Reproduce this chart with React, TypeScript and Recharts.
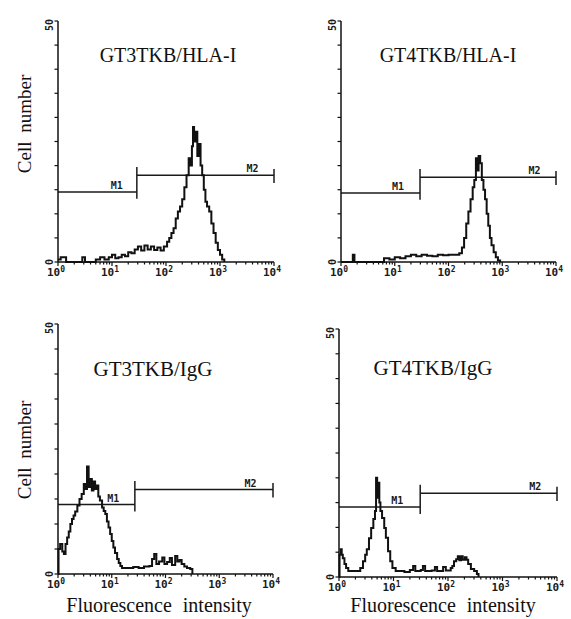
import React from 'react';
import { LineChart, Line, XAxis, YAxis, ReferenceLine, ReferenceDot } from 'recharts';

// ---- shared axis values ----
const decades = [0, 1, 2, 3, 4];
const minorOffsets = [0.301, 0.477, 0.602, 0.699, 0.778, 0.845, 0.903, 0.954];
const yTicks = [0, 5, 10, 15, 20, 25, 30, 35, 40, 45, 50];
const supDigits = ['0', '1', '2', '3', '4'];

// ---- panel 1: GT3TKB/HLA-I (x = log10 fluorescence, y = cell number) ----
const p1Log = [0.0, 0.05, 0.1, 0.15, 0.3, 0.45, 0.5, 0.7, 0.78, 0.86, 0.94, 1.0, 1.06, 1.12, 1.18, 1.24, 1.3, 1.36, 1.42, 1.48, 1.54, 1.6, 1.66, 1.72, 1.78, 1.84, 1.9, 1.96, 2.02, 2.06, 2.1, 2.14, 2.18, 2.22, 2.26, 2.3, 2.34, 2.38, 2.42, 2.45, 2.48, 2.5, 2.52, 2.55, 2.58, 2.61, 2.64, 2.67, 2.7, 2.73, 2.76, 2.8, 2.84, 2.88, 2.92, 2.96, 3.0, 3.04, 3.08];
const p1Count = [0.5, 1, 1, 0, 0, 1, 0, 0.5, 1, 0.5, 1, 1.5, 0.8, 1, 1.5, 1.2, 2, 1.8, 2.6, 3.2, 2.4, 3.4, 2.6, 3.2, 2.5, 3.0, 2.4, 3.2, 4.2, 5, 6, 7, 9, 10.5, 11.5, 13, 15.5, 18, 21.5, 20, 24, 28, 25, 27, 22, 24.5, 20, 18, 15, 12.5, 11.5, 10.5, 8, 6, 4, 2.5, 1.5, 0.5, 0];

// ---- panel 2: GT4TKB/HLA-I ----
const p2Log = [0.0, 0.2, 0.22, 0.25, 0.75, 0.8, 0.9, 1.0, 1.1, 1.2, 1.3, 1.4, 1.5, 1.6, 1.7, 1.8, 1.9, 2.0, 2.1, 2.2, 2.25, 2.29, 2.33, 2.37, 2.41, 2.45, 2.48, 2.51, 2.53, 2.56, 2.59, 2.62, 2.65, 2.68, 2.71, 2.74, 2.77, 2.8, 2.84, 2.88, 2.92, 2.96];
const p2Count = [0, 0, 1.5, 0, 0, 0.8, 0.5, 1, 0.8, 1.2, 1.5, 1.2, 1.5, 1.3, 1.2, 1.5, 1.4, 1.5, 1.5, 1.8, 3, 5, 8, 10.5, 13, 15.5, 17, 21.5, 19, 22, 20.5, 17, 15, 13, 10, 7.5, 5, 3.5, 2, 1, 0.3, 0];

// ---- panel 3: GT3TKB/IgG ----
const p3Log = [0.0, 0.01, 0.04, 0.08, 0.11, 0.14, 0.17, 0.2, 0.23, 0.26, 0.29, 0.32, 0.36, 0.4, 0.44, 0.48, 0.51, 0.54, 0.57, 0.6, 0.63, 0.66, 0.69, 0.72, 0.75, 0.78, 0.82, 0.85, 0.88, 0.91, 0.94, 0.97, 1.0, 1.03, 1.06, 1.1, 1.13, 1.16, 1.19, 1.3, 1.4, 1.5, 1.6, 1.7, 1.75, 1.79, 1.83, 1.88, 1.94, 1.98, 2.03, 2.08, 2.12, 2.18, 2.22, 2.26, 2.3, 2.35, 2.4, 2.46, 2.5];
const p3Count = [0, 5, 6, 4.5, 4, 6, 7.3, 8.5, 10, 11, 11.7, 12.5, 13.7, 15, 16, 18, 17, 21.5, 17.4, 19, 16.7, 18.5, 17, 17.7, 15.5, 14.7, 13.3, 12.6, 12, 10.5, 9.3, 8, 6.6, 5.3, 4.2, 3, 2.2, 1.6, 1.2, 1.2, 1.4, 1.2, 1.5, 1.6, 3, 4, 2, 2.5, 3.3, 2, 2.4, 3.2, 1.8, 3.6, 2.5, 2.8, 2, 1.5, 1.2, 1, 0];

// ---- panel 4: GT4TKB/IgG ----
const p4Log = [0.0, 0.01, 0.03, 0.05, 0.07, 0.1, 0.13, 0.17, 0.25, 0.35, 0.39, 0.44, 0.48, 0.51, 0.55, 0.59, 0.63, 0.66, 0.68, 0.7, 0.72, 0.74, 0.76, 0.79, 0.83, 0.86, 0.9, 0.94, 0.98, 1.04, 1.2, 1.3, 1.36, 1.4, 1.5, 1.54, 1.58, 1.7, 1.76, 1.8, 1.91, 1.96, 2.05, 2.08, 2.11, 2.15, 2.18, 2.21, 2.24, 2.27, 2.31, 2.34, 2.37, 2.42, 2.48, 2.53, 2.56];
const p4Count = [0, 4.5, 5.6, 4.5, 3.8, 2.6, 1.8, 1.2, 1.2, 1.2, 1.8, 3.2, 4.5, 5.6, 7.8, 9.9, 11.7, 13.3, 20, 16, 19, 15, 13.3, 11.9, 9.9, 7.9, 5.2, 3.2, 1.8, 1.2, 1.0, 1.4, 2.2, 1.2, 1.4, 2.2, 1.2, 1.3, 2, 1.2, 2, 1.3, 1.8, 2.2, 3.2, 3.6, 4.2, 3.4, 4.2, 3.5, 4, 3.5, 2.6, 1.6, 1.2, 0.6, 0];

// ---- gates (M1 ends / M2 starts at gateEdge, runs to 10^4) ----
const titles = ['GT3TKB/HLA-I', 'GT4TKB/HLA-I', 'GT3TKB/IgG', 'GT4TKB/IgG'];
const gateEdge = [1.46, 1.47, 1.43, 1.49];
const m1Level = [14.5, 14.3, 13.9, 14.1];
const m2Level = [18.0, 17.6, 16.9, 16.9];
const m1LabelPos = [1.09, 1.06, 1.03, 1.07];
const m2LabelPos = [3.6, 3.6, 3.58, 3.6];

const xTicks: number[] = [];
decades.forEach((d) => {
  xTicks.push(d);
  if (d < 4) minorOffsets.forEach((m) => xTicks.push(d + m));
});

const INK = '#111';
const MONO = "'DejaVu Sans Mono', monospace";
const SERIF = "'Liberation Serif', 'DejaVu Serif', serif";

function XTick(props: any) {
  const { x, y, payload } = props;
  const v = payload.value;
  const major = Math.abs(v - Math.round(v)) < 1e-6;
  return (
    <g>
      <line x1={x} x2={x} y1={y} y2={y + (major ? 4 : 2.5)} stroke={INK} strokeWidth={1.2} />
      {major && (
        <text x={x - 2} y={y + 14} textAnchor="middle" fontFamily={MONO} fontSize={11} fontWeight="bold" fill="#1a1a1a">
          <tspan>10</tspan>
          <tspan dy={-4} fontSize={8}>{supDigits[Math.round(v)]}</tspan>
        </text>
      )}
    </g>
  );
}

function YTick(props: any) {
  const { x, y, payload } = props;
  const v = payload.value;
  const showLabel = v === 0 || v === 50;
  const ly = v === 50 ? y + 4 : y;
  const lx = x - 5;
  return (
    <g>
      <line x1={x - 3.5} x2={x} y1={y} y2={y} stroke={INK} strokeWidth={1.2} />
      {showLabel && (
        <text x={lx} y={ly} transform={`rotate(-90 ${lx} ${ly})`} textAnchor="middle" fontFamily={MONO} fontSize={10} fontWeight="bold" fill="#1a1a1a">
          {v}
        </text>
      )}
    </g>
  );
}

type PanelProps = {
  idx: number;
  logs: number[];
  counts: number[];
  left: number;
  top: number;
  width: number;
  height: number;
  plotLeft: number;
  plotTop: number;
  plotRight: number;
  plotBottom: number;
};

const AXW = 30;
const AXH = 30;

function Panel({ idx, logs, counts, left, top, width, height, plotLeft, plotTop, plotRight, plotBottom }: PanelProps) {
  const rows = logs.map((l, i) => ({ x: l, y: counts[i] }));
  const g = gateEdge[idx];
  const m1 = m1Level[idx];
  const m2 = m2Level[idx];
  const gateStroke = { stroke: '#1a1a1a', strokeWidth: 1.5 };
  const mLabel = { fontSize: 10, fontFamily: MONO, fontWeight: 'bold', fill: '#1a1a1a' };
  const margin = {
    top: plotTop - top,
    left: plotLeft - left - AXW,
    right: left + width - plotRight,
    bottom: top + height - plotBottom - AXH,
  };
  return (
    <div style={{ position: 'absolute', left, top, width, height }}>
      <LineChart width={width} height={height} data={rows} margin={margin}>
        <XAxis
          dataKey="x"
          type="number"
          domain={[0, 4]}
          ticks={xTicks}
          interval={0}
          height={AXH}
          tickSize={0}
          tickMargin={0}
          tickLine={false}
          tick={<XTick />}
          axisLine={{ stroke: INK, strokeWidth: 1.5 }}
        />
        <YAxis
          type="number"
          domain={[0, 50]}
          ticks={yTicks}
          interval={0}
          width={AXW}
          tickSize={0}
          tickMargin={0}
          tickLine={false}
          tick={<YTick />}
          axisLine={{ stroke: INK, strokeWidth: 1.5 }}
        />
        <ReferenceLine segment={[{ x: 0, y: m1 }, { x: g, y: m1 }]} {...gateStroke} />
        <ReferenceLine segment={[{ x: g, y: m1 - 1.4 }, { x: g, y: m2 + 1.7 }]} {...gateStroke} />
        <ReferenceLine segment={[{ x: g, y: m2 }, { x: 4, y: m2 }]} {...gateStroke} />
        <ReferenceLine segment={[{ x: 4, y: m2 - 1.6 }, { x: 4, y: m2 + 1.3 }]} {...gateStroke} />
        <ReferenceDot x={m1LabelPos[idx]} y={m1} r={1} fill="none" stroke="none" label={{ value: 'M1', position: 'top', offset: 2, ...mLabel }} />
        <ReferenceDot x={m2LabelPos[idx]} y={m2} r={1} fill="none" stroke="none" label={{ value: 'M2', position: 'top', offset: 2, ...mLabel }} />
        <Line dataKey="y" type="stepAfter" stroke={INK} strokeWidth={2} dot={false} isAnimationActive={false} />
      </LineChart>
    </div>
  );
}

export default function App() {
  return (
    <div style={{ position: 'absolute', left: 0, top: 0, width: 571, height: 619, background: '#fff', overflow: 'hidden' }}>
      <Panel idx={0} logs={p1Log} counts={p1Count} left={0} top={0} width={285} height={300} plotLeft={58} plotTop={21} plotRight={274} plotBottom={262} />
      <Panel idx={1} logs={p2Log} counts={p2Count} left={285} top={0} width={286} height={300} plotLeft={341} plotTop={21} plotRight={556} plotBottom={262} />
      <Panel idx={2} logs={p3Log} counts={p3Count} left={0} top={300} width={285} height={319} plotLeft={58} plotTop={324} plotRight={273} plotBottom={574} />
      <Panel idx={3} logs={p4Log} counts={p4Count} left={285} top={300} width={286} height={319} plotLeft={339} plotTop={329} plotRight={557} plotBottom={577} />
      <svg width={571} height={619} style={{ position: 'absolute', left: 0, top: 0, pointerEvents: 'none' }}>
        <text x={168} y={62} fontSize={20} fontFamily={SERIF} fill="#111" textAnchor="middle">{titles[0]}</text>
        <text x={448} y={62} fontSize={20} fontFamily={SERIF} fill="#111" textAnchor="middle">{titles[1]}</text>
        <text x={153} y={376} fontSize={21} fontFamily={SERIF} fill="#111" textAnchor="middle">{titles[2]}</text>
        <text x={433} y={375} fontSize={21} fontFamily={SERIF} fill="#111" textAnchor="middle">{titles[3]}</text>
        <text x={31} y={124} fontSize={19} fontFamily={SERIF} fill="#111" textAnchor="middle" transform="rotate(-90 31 124)" wordSpacing={4}>Cell number</text>
        <text x={31} y={450} fontSize={19} fontFamily={SERIF} fill="#111" textAnchor="middle" transform="rotate(-90 31 450)" wordSpacing={4}>Cell number</text>
        <text x={159} y={612} fontSize={20} fontFamily={SERIF} fill="#111" textAnchor="middle" wordSpacing={6}>Fluorescence intensity</text>
        <text x={443} y={612} fontSize={20} fontFamily={SERIF} fill="#111" textAnchor="middle" wordSpacing={6}>Fluorescence intensity</text>
      </svg>
    </div>
  );
}
